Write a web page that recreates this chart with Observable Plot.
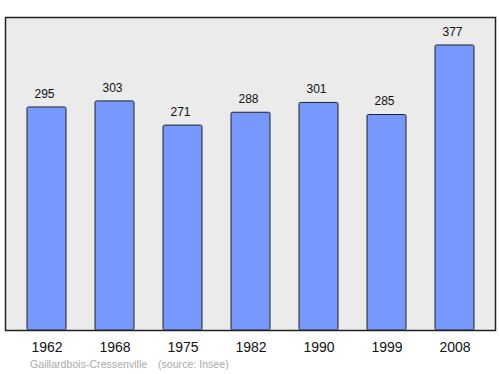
<!DOCTYPE html>
<html><head><meta charset="utf-8">
<script src="https://cdn.jsdelivr.net/npm/d3@7"></script>
<script src="https://cdn.jsdelivr.net/npm/@observablehq/plot@0.6"></script>
<style>
body{margin:0;background:#fff;font-family:"Liberation Sans",Arial,sans-serif;}
.cap{position:absolute;top:358px;font-size:10.6px;color:#aaa;white-space:pre;}
</style></head>
<body>
<div id="chart"></div>
<div class="cap" style="left:30px">Gaillardbois-Cressenville</div>
<div class="cap" style="left:158px">(source: Insee)</div>
<script>
const years = ["1962","1968","1975","1982","1990","1999","2008"];
const population = [295,303,271,288,301,285,377];
const data = years.map((y,i)=>({year:y, pop:population[i]}));
const chart = Plot.plot({
  width:500, height:355,
  marginTop:17, marginBottom:25, marginLeft:5, marginRight:5,
  style:{fontFamily:"'Liberation Sans', Arial, sans-serif", background:"#fff"},
  x:{domain:years, paddingInner:0.43, paddingOuter:0.3, label:null},
  y:{domain:[0,414], axis:null},
  marks:[
    Plot.frame({fill:"#ebebeb", stroke:"#222", strokeWidth:1.5}),
    Plot.barY(data,{x:"year", y:"pop", fill:"#7799ff", stroke:"#222", strokeWidth:1, rx:1.5}),
    Plot.text(data,{x:"year", y:"pop", text:d=>String(d.pop), dy:-13.5, dx:-2.5, fontSize:12, fill:"#111"}),
    Plot.axisX({tickSize:0, tickPadding:12, fontSize:14, fill:"#111", label:null})
  ]
});
document.getElementById("chart").append(chart);
</script>
</body></html>
